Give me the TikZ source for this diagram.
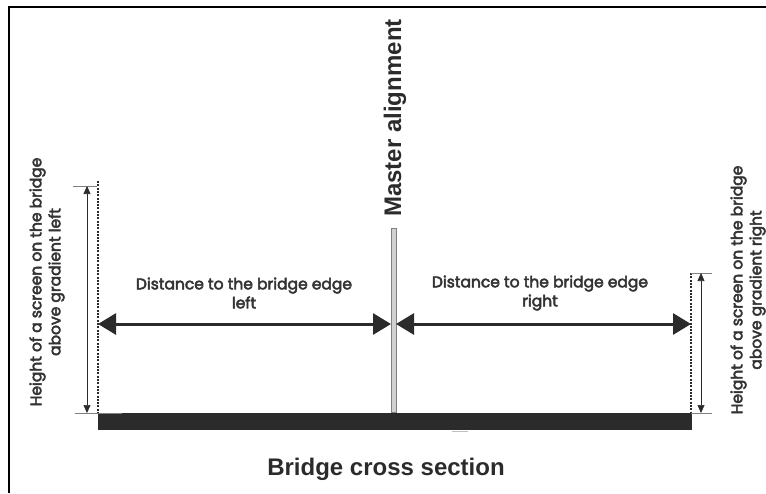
\documentclass[tikz,border=0pt]{standalone}
\usepackage{fontspec}
\setmainfont{Liberation Sans}
\newfontfamily\gothic[FakeBold=3.2]{Poppins}
\usetikzlibrary{arrows.meta}
\definecolor{ink}{HTML}{2B2B2B}
\definecolor{txt}{HTML}{333333}
\tikzset{
  frameline/.style={line width=2.4pt, black},
  deckbox/.style={fill=ink, draw=none},
  polebox/.style={fill=black!18, draw=black!50, line width=0.7pt},
  bigarrow/.style={line width=3pt, ink, {Triangle[length=18pt,width=21pt]}-{Triangle[length=18pt,width=21pt]}},
  dimarrow/.style={line width=0.6pt, ink, {Triangle[length=8pt,width=7pt]}-{Triangle[length=8pt,width=7pt]}},
  dotline/.style={line width=1.4pt, ink, dash pattern=on 2pt off 1.3pt},
  tickline/.style={line width=0.8pt, black!50},
  lbl/.style={font=\gothic\fontsize{15.5}{19}\selectfont, text=txt, align=center, inner sep=0pt},
  bigtitle/.style={font=\bfseries\fontsize{24}{28}\selectfont, text=ink, inner sep=0pt},
}
\begin{document}
\begin{tikzpicture}[x=1pt,y=-1pt]
\useasboundingbox (0,0) rectangle (766,493);
% frame
\draw[frameline] (766,7) -- (9,7) -- (9,493);
% deck
\node[deckbox, minimum width=594pt, minimum height=17pt, inner sep=0pt, anchor=north west] (deck) at (98,413) {};
\draw[black!25, line width=1pt] (452,431) -- (468,431);
% pole
\node[polebox, minimum width=5pt, minimum height=184pt, inner sep=0pt, anchor=south] (pole) at (393.5,413) {};
% master alignment label
\node[bigtitle, rotate=90] (master) at (395,118) {Master alignment};
% title
\node[bigtitle] (title) at (386,469) {Bridge cross section};
% left edge dotted line
\coordinate (lt) at (98,181);
\coordinate (lb) at (98,413);
\draw[dotline] (lt) -- (lb);
% right edge dotted line
\coordinate (rt) at (691,273);
\coordinate (rb) at (691,413);
\draw[dotline] (rt) -- (rb);
% ticks
\coordinate (ltl) at (73,186);
\coordinate (ltr) at (97,186);
\coordinate (lbl) at (75,413);
\coordinate (lbr) at (122,413);
\draw[tickline] (ltl) -- (ltr);
\draw[tickline] (lbl) -- (lbr);
\coordinate (rtr) at (712,273);
\coordinate (rbr) at (712,413);
\draw[tickline] (rt) -- (rtr);
\draw[tickline] (rb) -- (rbr);
% vertical dimension arrows
\coordinate (lda) at (87,186);
\coordinate (ldb) at (87,413);
\draw[dimarrow] (lda) -- (ldb);
\coordinate (rda) at (701,273);
\coordinate (rdb) at (701,413);
\draw[dimarrow] (rda) -- (rdb);
% horizontal distance arrows
\coordinate (al) at (98,324);
\coordinate (ar) at (391,324);
\draw[bigarrow] (al) -- (ar);
\coordinate (bl) at (396,324);
\coordinate (br) at (691,324);
\draw[bigarrow] (bl) -- (br);
% labels
\node[lbl] (dleft) at (244,293) {Distance to the bridge edge\\left};
\node[lbl] (dright) at (540,293) {Distance to the bridge edge\\right};
\node[lbl, rotate=90] (hleft) at (47,282) {Height of a screen on the bridge\\above gradient left};
\node[lbl, rotate=90] (hright) at (748,290) {Height of a screen on the bridge\\above gradient right};
\end{tikzpicture}
\end{document}
